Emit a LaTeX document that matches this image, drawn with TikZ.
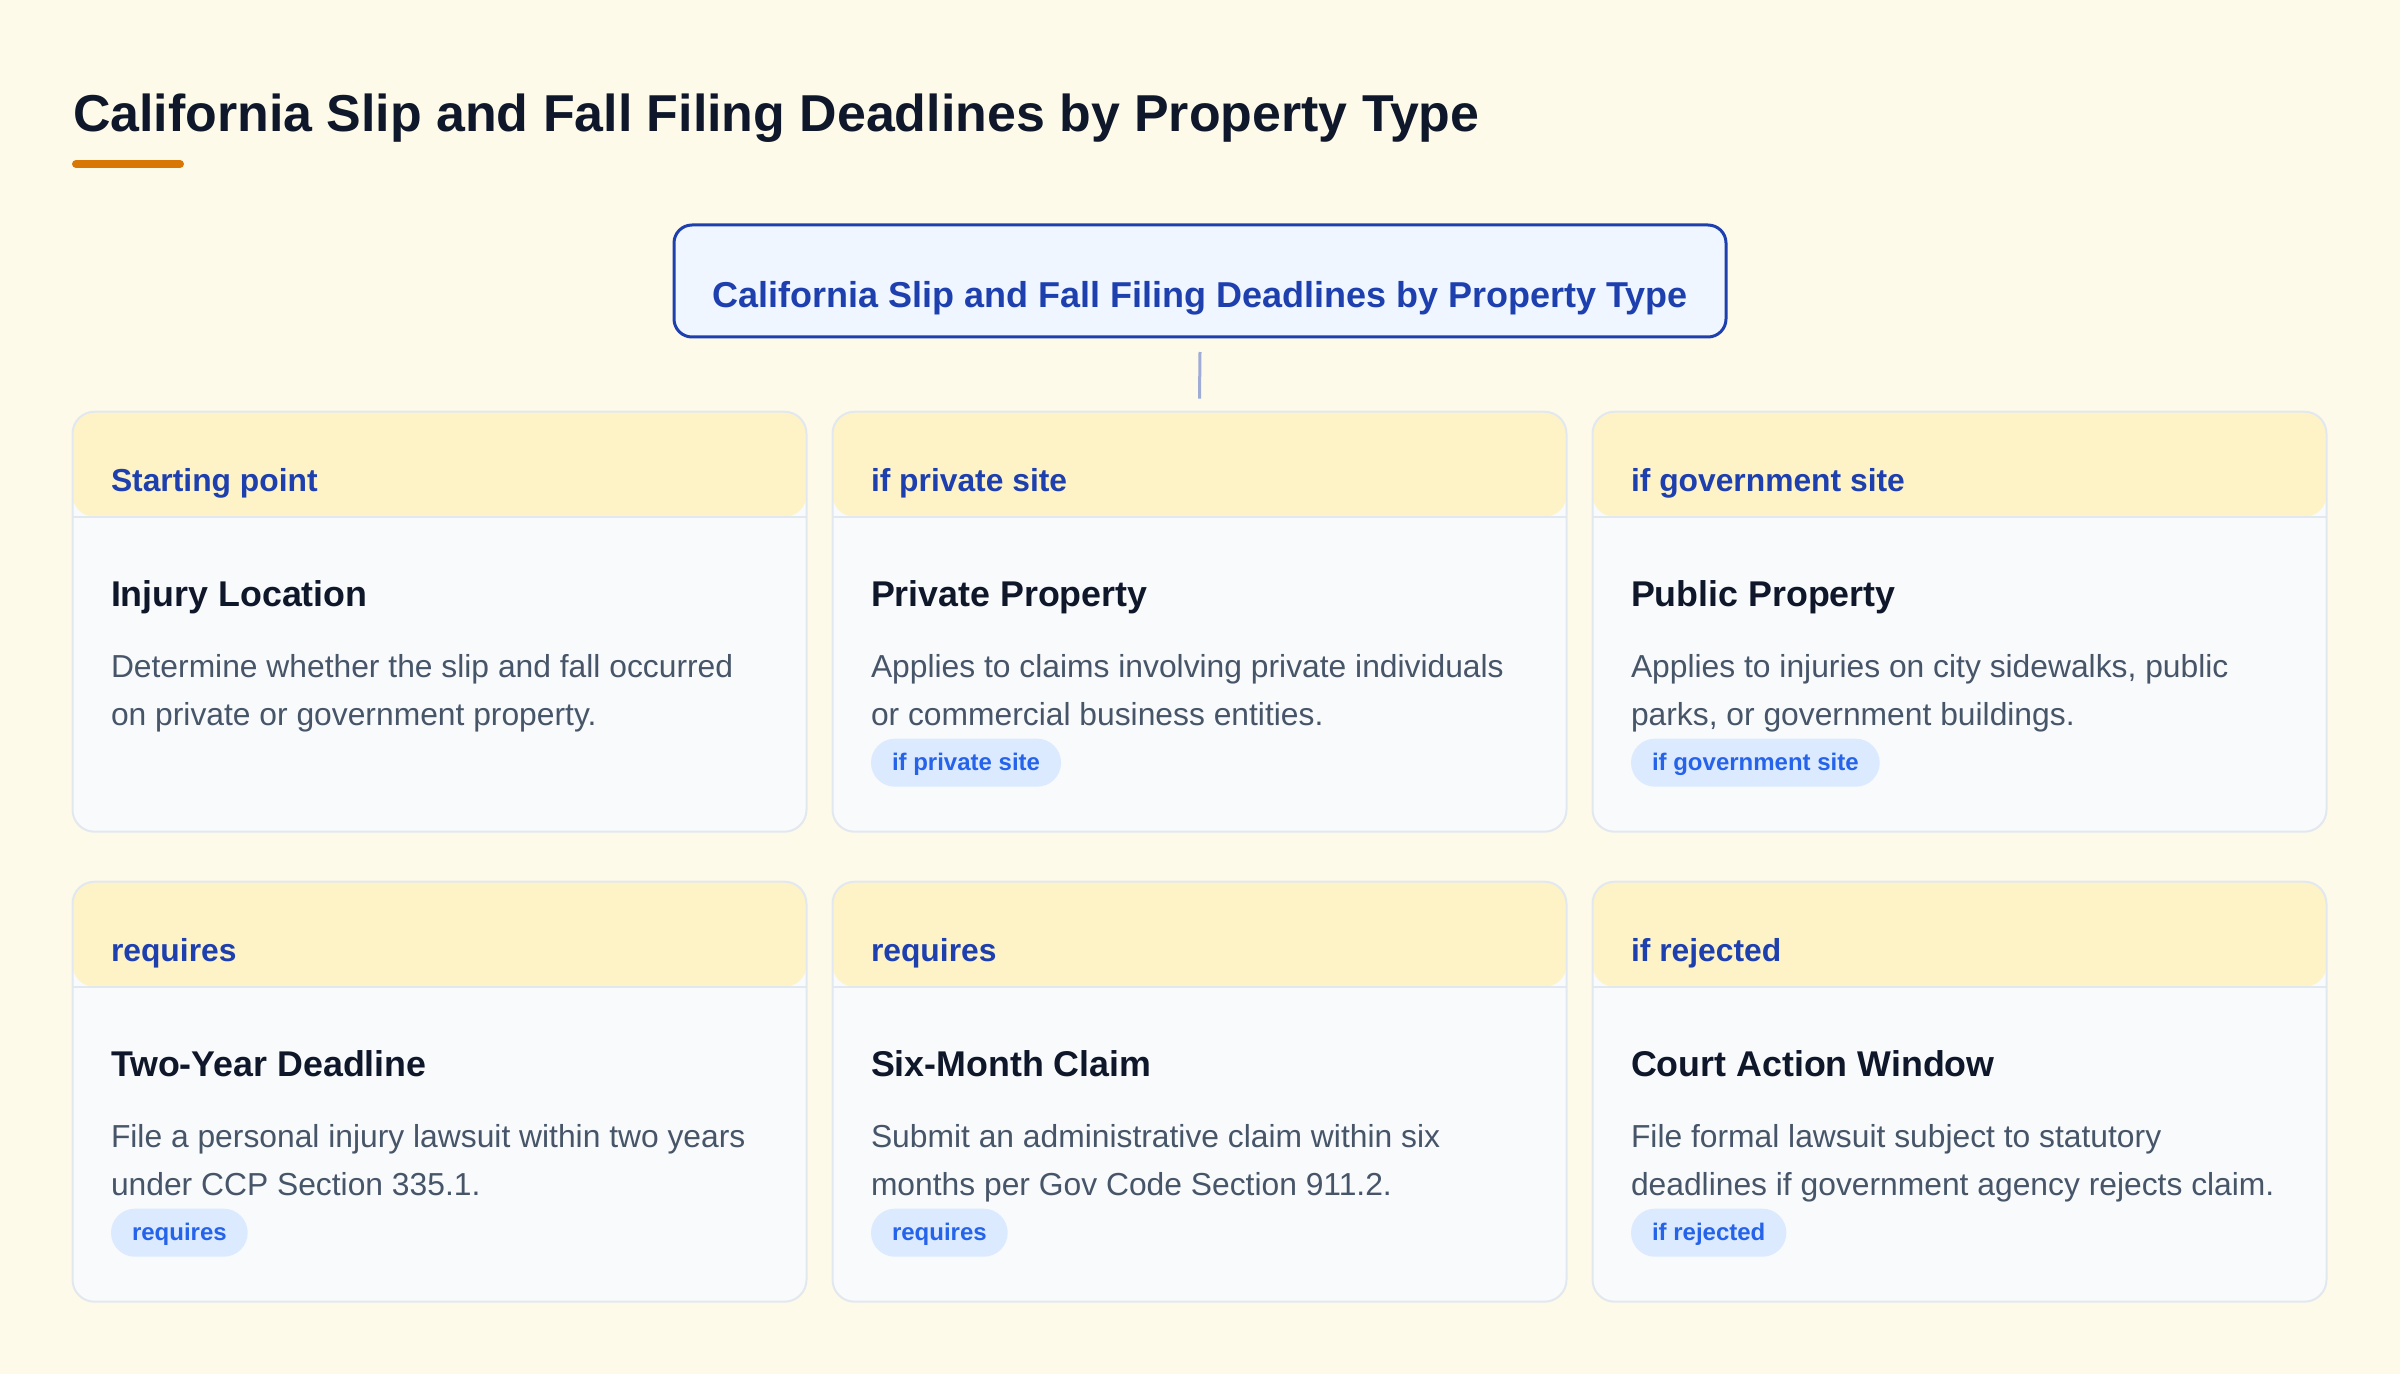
\documentclass[tikz,border=0pt]{standalone}
\usepackage{fontspec}
\setmainfont{Liberation Sans}
\usetikzlibrary{positioning, calc}

\definecolor{pageBg}{HTML}{FEFAEA}
\definecolor{headFill}{HTML}{FEF3C7}
\definecolor{bodyFill}{HTML}{F8FAFC}
\definecolor{cardEdge}{HTML}{E2E8F0}
\definecolor{navy}{HTML}{1E40AF}
\definecolor{ink}{HTML}{0F172A}
\definecolor{slate}{HTML}{475569}
\definecolor{pillFill}{HTML}{DBEAFE}
\definecolor{pillText}{HTML}{2563EB}
\definecolor{rootFill}{HTML}{EFF6FF}
\definecolor{accent}{HTML}{D97706}
\definecolor{linkGray}{HTML}{A0ACD6}

\begin{document}
\begin{tikzpicture}[x=0.5pt, y=-0.5pt,
	every node/.style={inner sep=0pt, outer sep=0pt},
	cardBox/.style={draw=cardEdge, line width=1pt, fill=bodyFill, rounded corners=11pt, anchor=north west,
			minimum width=367pt, minimum height=210pt,
			path picture={
					\fill[headFill] (path picture bounding box.north west) rectangle ([yshift=-52.5pt]path picture bounding box.north east);
					\draw[cardEdge, line width=1pt] ([yshift=-52.5pt]path picture bounding box.north west) -- ([yshift=-52.5pt]path picture bounding box.north east);
				}},
	headLabel/.style={anchor=base west, text=navy, font=\fontsize{15.9}{18}\selectfont\bfseries},
	cardTitle/.style={anchor=base west, text=ink, font=\fontsize{17.9}{21}\selectfont\bfseries},
	cardText/.style={anchor=base west, text=slate, align=left, font=\fontsize{15.9}{23.65}\selectfont},
	tagPill/.style={anchor=north west, fill=pillFill, text=pillText, rounded corners=12pt, minimum height=24pt,
			inner xsep=10.5pt, text height=7.5pt, text depth=0pt, font=\fontsize{12}{14}\selectfont\bfseries},
	rootBox/.style={draw=navy, line width=1.5pt, fill=rootFill, rounded corners=9pt, minimum width=526pt, minimum height=56pt,
			text height=27pt, text depth=0pt, text=navy, font=\fontsize{18}{21}\selectfont\bfseries},
	linkLine/.style={draw=linkGray, line width=1.5pt}
]

\fill[pageBg] (0,0) rectangle (2400,1374);
\useasboundingbox (0,0) rectangle (2400,1374);

% Heading
\node[anchor=base west, text=ink, font=\fontsize{25.95}{30}\selectfont\bfseries] (heading) at (73,132) {California Slip and Fall Filing Deadlines by Property Type};
\draw[accent, line width=4pt, line cap=round] (76,164) -- (180,164);

% Root box
\node[rootBox] (root) at (1200,281) {California Slip and Fall Filing Deadlines by Property Type};

% Top row
\begin{scope}[shift={(72.5,411.7)}]
	\node[cardBox] (C1) at (0,0) {};
	\node[headLabel] (H1) at (38.5,80) {Starting point};
	\node[cardTitle] (T1) at (38.5,195) {Injury Location};
	\node[cardText] (D1) at (38.5,313.5) {Determine whether the slip and fall occurred\\on private or government property.};
\end{scope}
\begin{scope}[shift={(832.5,411.7)}]
	\node[cardBox] (C2) at (0,0) {};
	\node[headLabel] (H2) at (38.5,80) {if private site};
	\node[cardTitle] (T2) at (38.5,195) {Private Property};
	\node[cardText] (D2) at (38.5,313.5) {Applies to claims involving private individuals\\or commercial business entities.};
	\node[tagPill] (P2) at (38.5,327) {if private site};
\end{scope}
\begin{scope}[shift={(1592.5,411.7)}]
	\node[cardBox] (C3) at (0,0) {};
	\node[headLabel] (H3) at (38.5,80) {if government site};
	\node[cardTitle] (T3) at (38.5,195) {Public Property};
	\node[cardText] (D3) at (38.5,313.5) {Applies to injuries on city sidewalks, public\\parks, or government buildings.};
	\node[tagPill] (P3) at (38.5,327) {if government site};
\end{scope}

% Bottom row
\begin{scope}[shift={(72.5,881.7)}]
	\node[cardBox] (C4) at (0,0) {};
	\node[headLabel] (H4) at (38.5,80) {requires};
	\node[cardTitle] (T4) at (38.5,195) {Two-Year Deadline};
	\node[cardText] (D4) at (38.5,313.5) {File a personal injury lawsuit within two years\\under CCP Section 335.1.};
	\node[tagPill] (P4) at (38.5,327) {requires};
\end{scope}
\begin{scope}[shift={(832.5,881.7)}]
	\node[cardBox] (C5) at (0,0) {};
	\node[headLabel] (H5) at (38.5,80) {requires};
	\node[cardTitle] (T5) at (38.5,195) {Six-Month Claim};
	\node[cardText] (D5) at (38.5,313.5) {Submit an administrative claim within six\\months per Gov Code Section 911.2.};
	\node[tagPill] (P5) at (38.5,327) {requires};
\end{scope}
\begin{scope}[shift={(1592.5,881.7)}]
	\node[cardBox] (C6) at (0,0) {};
	\node[headLabel] (H6) at (38.5,80) {if rejected};
	\node[cardTitle] (T6) at (38.5,195) {Court Action Window};
	\node[cardText] (D6) at (38.5,313.5) {File formal lawsuit subject to statutory\\deadlines if government agency rejects claim.};
	\node[tagPill] (P6) at (38.5,327) {if rejected};
\end{scope}

% Connector
\draw[linkLine] ([yshift=-7.5pt]root.south) -- ([yshift=6.5pt]C2.north);
\end{tikzpicture}
\end{document}
